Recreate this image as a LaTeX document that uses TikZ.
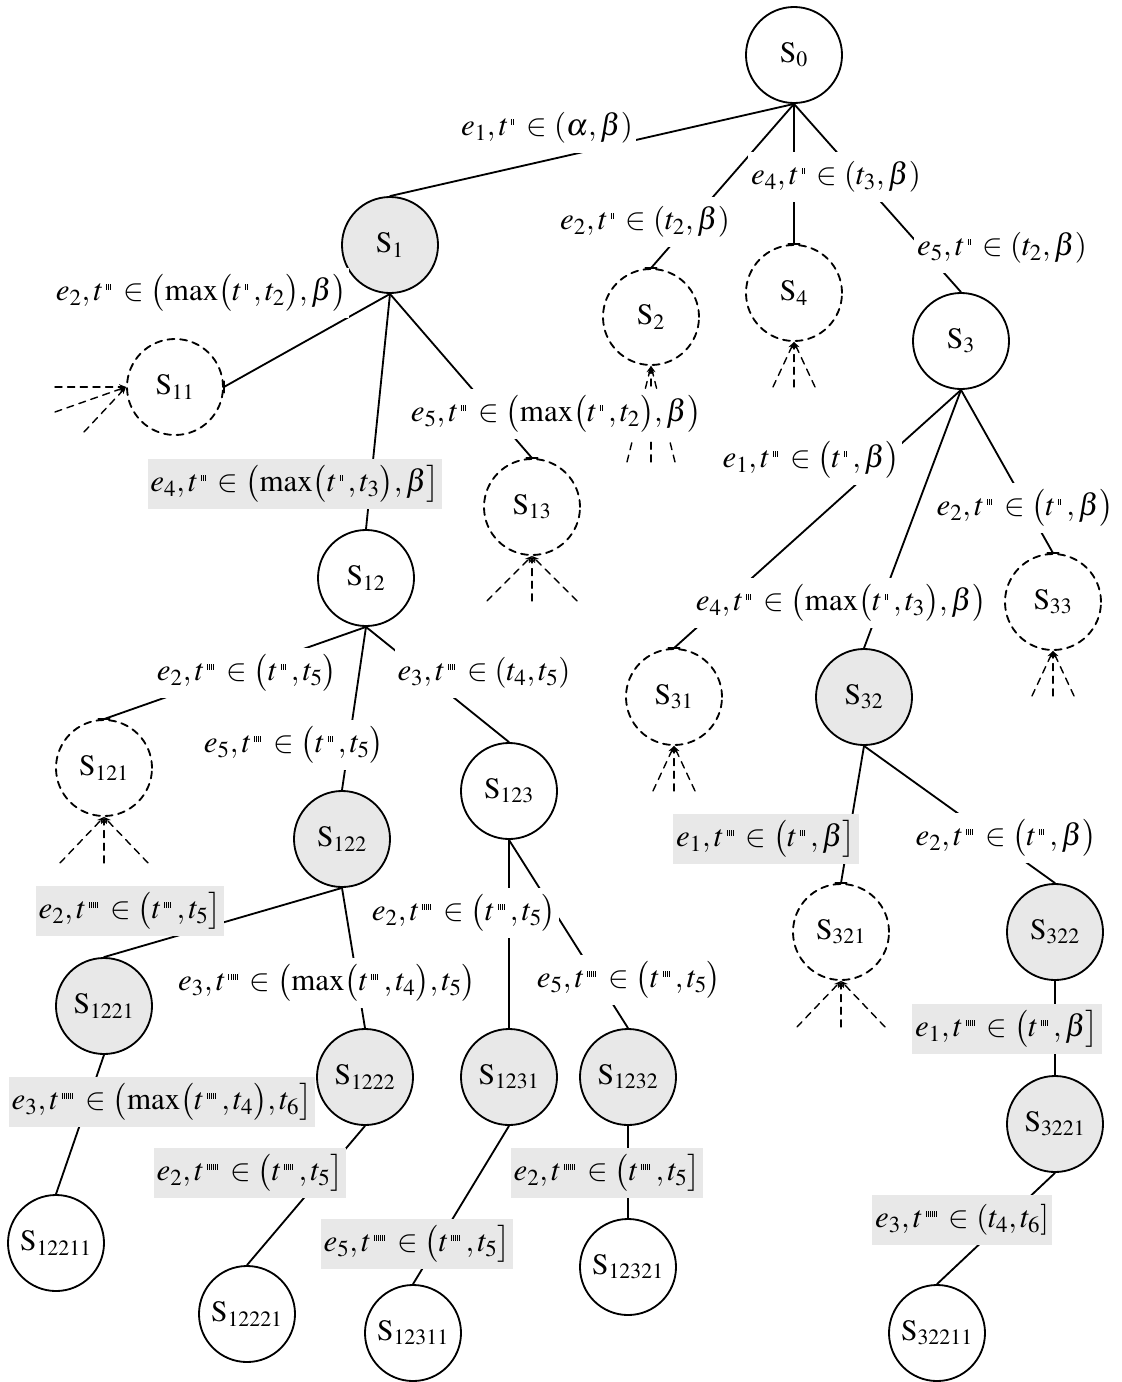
\documentclass[tikz,border=0pt]{standalone}
\usepackage{mathptmx}
\usepackage{fontspec}
\setmainfont{Liberation Serif}
\usetikzlibrary{arrows.meta}
\definecolor{shade}{HTML}{E8E8E8}
\newcommand{\tk}{\rule{0.55pt}{3.6pt}\hspace{0.9pt}}
\newcommand{\pr}[1]{^{\,\foreach\i in {1,...,#1}{\tk}}\,}
\newcommand{\capn}[1]{\draw ([xshift=-4pt]#1.north) -- ([xshift=4pt]#1.north);}
\newcommand{\fanin}[3]{\foreach \d in {-#2,0,#2} \draw[fan] (#1.south) ++(\d,#3) -- (#1.south);}
\tikzset{
  state/.style={circle,draw,line width=1.3pt,minimum size=2.4cm,inner sep=0pt,font=\fontsize{21}{24}\selectfont},
  done/.style={state,fill=shade},
  open/.style={state,dash pattern=on 5pt off 4pt},
  lbl/.style={fill=white,inner xsep=2pt,minimum height=1.25cm,font=\fontsize{22}{26}\selectfont},
  glbl/.style={lbl,fill=shade},
  fan/.style={line width=1pt,dash pattern=on 5pt off 4pt,-{Stealth[length=5pt,width=4pt]}}
}
\begin{document}
\begin{tikzpicture}[x=0.025cm,y=-0.025cm,line width=1.3pt,line cap=round]
  \useasboundingbox (0,0) rectangle (1122,1382);
  \node[state] (s0) at (794,55) {$\mathrm{S}_{0}$};
  \node[done] (s1) at (390,245) {$\mathrm{S}_{1}$};
  \node[open] (s2) at (651,317) {$\mathrm{S}_{2}$};
  \node[open] (s4) at (794,293) {$\mathrm{S}_{4}$};
  \node[state] (s3) at (961,341) {$\mathrm{S}_{3}$};
  \node[open] (s11) at (175,387) {$\mathrm{S}_{11}$};
  \node[state] (s12) at (366,578) {$\mathrm{S}_{12}$};
  \node[open] (s13) at (532,507) {$\mathrm{S}_{13}$};
  \node[open] (s121) at (104,768) {$\mathrm{S}_{121}$};
  \node[done] (s122) at (342,839) {$\mathrm{S}_{122}$};
  \node[state] (s123) at (509,791) {$\mathrm{S}_{123}$};
  \node[done] (s1221) at (104,1006) {$\mathrm{S}_{1221}$};
  \node[done] (s1222) at (365,1077) {$\mathrm{S}_{1222}$};
  \node[done] (s1231) at (509,1077) {$\mathrm{S}_{1231}$};
  \node[done] (s1232) at (628,1077) {$\mathrm{S}_{1232}$};
  \node[state] (s12211) at (56,1243) {$\mathrm{S}_{12211}$};
  \node[state] (s12221) at (247,1314) {$\mathrm{S}_{12221}$};
  \node[state] (s12311) at (413,1333) {$\mathrm{S}_{12311}$};
  \node[state] (s12321) at (628,1267) {$\mathrm{S}_{12321}$};
  \node[open] (s31) at (674,697) {$\mathrm{S}_{31}$};
  \node[done] (s32) at (864,697) {$\mathrm{S}_{32}$};
  \node[open] (s33) at (1053,602) {$\mathrm{S}_{33}$};
  \node[open] (s321) at (841,932) {$\mathrm{S}_{321}$};
  \node[done] (s322) at (1055,932) {$\mathrm{S}_{322}$};
  \node[done] (s3221) at (1055,1124) {$\mathrm{S}_{3221}$};
  \node[state] (s32211) at (937,1333) {$\mathrm{S}_{32211}$};

  \draw (s0.south) -- (s1.north);
  \draw (s0.south) -- (s2.north);
  \draw (s0.south) -- (s4.north);
  \draw (s0.south) -- (s3.north);
  \draw (s1.south) -- (s11.east);
  \draw (s1.south) -- (s12.north);
  \draw (s1.south) -- (s13.north);
  \draw (s12.south) -- (s121.north);
  \draw (s12.south) -- (s122.north);
  \draw (s12.south) -- (s123.north);
  \draw (s122.south) -- (s1221.north);
  \draw (s122.south) -- (s1222.north);
  \draw (s123.south) -- (s1231.north);
  \draw (s123.south) -- (s1232.north);
  \draw (s1221.south) -- (s12211.north);
  \draw (s1222.south) -- (s12221.north);
  \draw (s1231.south) -- (s12311.north);
  \draw (s1232.south) -- (s12321.north);
  \draw (s3.south) -- (s31.north);
  \draw (s3.south) -- (s32.north);
  \draw (s3.south) -- (s33.north);
  \draw (s32.south) -- (s321.north);
  \draw (s32.south) -- (s322.north);
  \draw (s322.south) -- (s3221.north);
  \draw (s3221.south) -- (s32211.north);

  \capn{s2} \capn{s4} \capn{s13} \capn{s121} \capn{s31} \capn{s33} \capn{s321}
  \draw ([yshift=-4pt]s11.east) -- ([yshift=4pt]s11.east);
  \fanin{s2}{24}{96}
  \fanin{s4}{21}{45}
  \fanin{s13}{45}{45}
  \fanin{s121}{44}{46}
  \fanin{s31}{21}{45}
  \fanin{s33}{21}{45}
  \fanin{s321}{44}{46}
  \draw[fan] (55,387) -- (s11.west);
  \draw[fan] (55,412) -- (s11.west);
  \draw[fan] (84,432) -- (s11.west);

  \node[lbl] (l1) at (547,128) {$e_1, t\pr{2} \in (\alpha, \beta)$};
  \node[lbl] (l2) at (645,222) {$e_2, t\pr{2} \in (t_2, \beta)$};
  \node[lbl] (l4) at (836,177) {$e_4, t\pr{2} \in (t_3, \beta)$};
  \node[lbl] (l3) at (1002,248) {$e_5, t\pr{2} \in (t_2, \beta)$};
  \node[lbl] (l11) at (201,293) {$e_2, t\pr{3} \in \bigl(\max\bigl(t\pr{2}, t_2\bigr), \beta\bigr)$};
  \node[glbl] (l12) at (295,484) {$e_4, t\pr{3} \in \bigl(\max\bigl(t\pr{2}, t_3\bigr), \beta\bigr]$};
  \node[lbl] (l13) at (556,414) {$e_5, t\pr{3} \in \bigl(\max\bigl(t\pr{2}, t_2\bigr), \beta\bigr)$};
  \node[lbl] (l121) at (247,673) {$e_2, t\pr{4} \in \bigl(t\pr{3}, t_5\bigr)$};
  \node[lbl] (l123) at (484,673) {$e_3, t\pr{4} \in (t_4, t_5)$};
  \node[lbl] (l122) at (294,745) {$e_5, t\pr{4} \in \bigl(t\pr{3}, t_5\bigr)$};
  \node[glbl] (l1221) at (130,911) {$e_2, t\pr{5} \in \bigl(t\pr{4}, t_5\bigr]$};
  \node[lbl] (l1222) at (327,983) {$e_3, t\pr{5} \in \bigl(\max\bigl(t\pr{4}, t_4\bigr), t_5\bigr)$};
  \node[lbl] (l1231) at (464,913) {$e_2, t\pr{5} \in \bigl(t\pr{4}, t_5\bigr)$};
  \node[lbl] (l1232) at (629,980) {$e_5, t\pr{5} \in \bigl(t\pr{4}, t_5\bigr)$};
  \node[glbl] (l12211) at (162,1102) {$e_3, t\pr{6} \in \bigl(\max\bigl(t\pr{5}, t_4\bigr), t_6\bigr]$};
  \node[glbl] (l12221) at (250,1173) {$e_2, t\pr{6} \in \bigl(t\pr{5}, t_5\bigr]$};
  \node[glbl] (l12311) at (417,1244) {$e_5, t\pr{6} \in \bigl(t\pr{5}, t_5\bigr]$};
  \node[glbl] (l12321) at (607,1173) {$e_2, t\pr{6} \in \bigl(t\pr{5}, t_5\bigr]$};
  \node[lbl] (l31) at (811,460) {$e_1, t\pr{3} \in \bigl(t\pr{2}, \beta\bigr)$};
  \node[lbl] (l32) at (841,603) {$e_4, t\pr{3} \in \bigl(\max\bigl(t\pr{2}, t_3\bigr), \beta\bigr)$};
  \node[lbl] (l33) at (1025,508) {$e_2, t\pr{3} \in \bigl(t\pr{2}, \beta\bigr)$};
  \node[glbl] (l321) at (766,839) {$e_1, t\pr{4} \in \bigl(t\pr{3}, \beta\bigr]$};
  \node[lbl] (l322) at (1006,838) {$e_2, t\pr{4} \in \bigl(t\pr{3}, \beta\bigr)$};
  \node[glbl] (l3221) at (1007,1029) {$e_1, t\pr{5} \in \bigl(t\pr{4}, \beta\bigr]$};
  \node[glbl] (l32211) at (962,1220) {$e_3, t\pr{6} \in (t_4, t_6]$};
\end{tikzpicture}
\end{document}
